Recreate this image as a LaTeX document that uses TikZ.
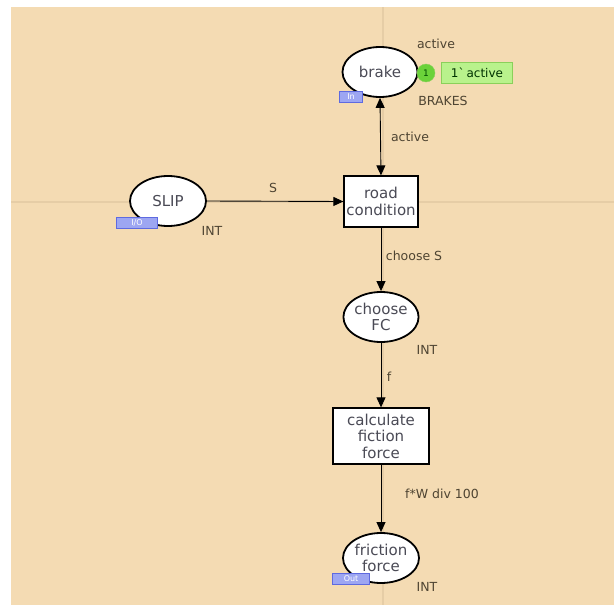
\documentclass[tikz,border=0pt]{standalone}
\usepackage{fontspec}
\setmainfont{DejaVu Sans}
\usetikzlibrary{arrows.meta,shapes.geometric}
\definecolor{bg}{HTML}{F4DBB3}
\definecolor{guide}{HTML}{E6CDA6}
\definecolor{txt}{HTML}{4A4A55}
\definecolor{lbl}{HTML}{4E4432}
\definecolor{tagfill}{HTML}{9DA6F2}
\definecolor{tagdraw}{HTML}{5E6AE0}
\definecolor{tokfill}{HTML}{6BD23A}
\definecolor{tokbox}{HTML}{B9F28C}
\definecolor{tokdraw}{HTML}{8AD05A}
\tikzset{
  place/.style={ellipse, draw=black, line width=1.8pt, fill=white, minimum width=#1, minimum height=50pt, inner sep=0pt, align=center, text=txt, font=\fontsize{15}{16}\selectfont},
  trans/.style={rectangle, draw=black, line width=1.3pt, fill=white, inner sep=0pt, align=center, text=txt, font=\fontsize{15}{16.5}\selectfont},
  lab/.style={text=lbl, font=\fontsize{12.5}{14}\selectfont, inner sep=0pt},
  tag/.style={rectangle, draw=tagdraw, fill=tagfill, text=white, font=\fontsize{8}{8}\selectfont, inner sep=1pt, minimum height=11pt},
  arc/.style={draw=black, line width=0.9pt, -{Triangle[length=10pt,width=9pt]}},
  biarc/.style={draw=black, line width=0.9pt, {Triangle[length=10pt,width=9pt]}-{Triangle[length=10pt,width=9pt]}},
}
\begin{document}
\begin{tikzpicture}[x=1pt,y=-1pt]
\useasboundingbox (0,0) rectangle (614,605);
\fill[white] (0,0) rectangle (614,605);
\fill[bg] (11,7) rectangle (614,605);
\draw[guide, line width=1.5pt] (383,7) -- (383,605);
\draw[guide, line width=1.5pt] (11,202) -- (614,202);

% places
\node[place=75pt] (brake) at (380,72) {brake};
\node[place=76pt] (slip) at (168,201) {SLIP};
\node[place=74pt] (choose) at (381,317) {choose\\FC};
\node[place=76pt] (friction) at (381,558) {friction\\force};

% transitions
\node[trans, minimum width=74pt, minimum height=51pt] (road) at (381,201.5) {road\\condition};
\node[trans, minimum width=96pt, minimum height=56pt] (calc) at (381,436) {calculate\\fiction\\force};

% arcs
\draw[biarc] (brake.south) -- (road.north);
\draw[arc] (slip.east) -- (road.west);
\draw[arc] (road.south) -- (choose.north);
\draw[arc] (choose.south) -- (calc.north);
\draw[arc] (calc.south) -- (friction.north);

% arc labels
\node[lab] (l1) at (410,137) {active};
\node[lab] (l2) at (273,188) {S};
\node[lab] (l3) at (414,256) {choose S};
\node[lab] (l4) at (389,377) {f};
\node[lab] (l5) at (442,494) {f*W div 100};

% colour sets and initial marking
\node[lab] (a1) at (436,44) {active};
\node[lab] (b1) at (443,101) {BRAKES};
\node[lab] (i1) at (212,231) {INT};
\node[lab] (i2) at (427,350) {INT};
\node[lab] (i3) at (427,587) {INT};

% tokens
\node[rectangle, fill=tokbox, draw=tokdraw, text=black!60!green!50!black, font=\fontsize{12}{14}\selectfont, inner sep=2pt, minimum width=71pt, minimum height=21pt] (tokl) at (477,72.5) {1\textasciigrave\,active};
\node[circle, fill=tokfill, draw=tokdraw, text=black!70!green, font=\fontsize{9}{10}\selectfont, inner sep=0pt, minimum size=18pt] (tok) at (426,73) {1};

% port tags
\node[tag, minimum width=23pt] (tin) at (351,97) {In};
\node[tag, minimum width=41pt] (tio) at (137,223) {I/O};
\node[tag, minimum width=37pt] (tout) at (351,579) {Out};
\end{tikzpicture}
\end{document}
